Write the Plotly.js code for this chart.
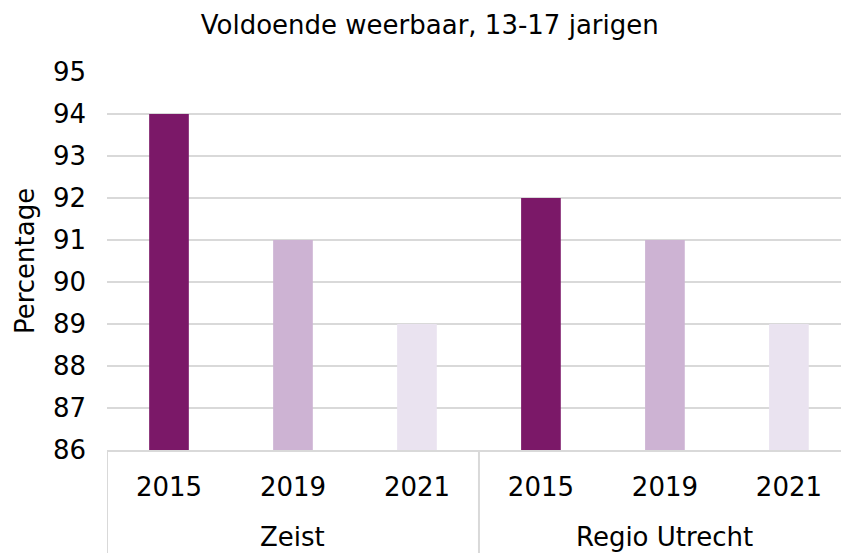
<!DOCTYPE html>
<html>
<head>
<meta charset="utf-8">
<script src="https://cdn.plot.ly/plotly-3.0.1.min.js"></script>
<style>html,body{margin:0;padding:0;background:#fff;}#chart{width:841px;height:553px;}</style>
</head>
<body>
<div id="chart"></div>
<script>
const groups = ["Zeist", "Zeist", "Zeist", "Regio Utrecht", "Regio Utrecht", "Regio Utrecht"];
const years = ["2015", "2019", "2021", "2015", "2019", "2021"];
const values = [94, 91, 89, 92, 91, 89];
const barColors = ["#7B1868", "#CDB3D3", "#EAE3F0", "#7B1868", "#CDB3D3", "#EAE3F0"];
const yTicks = [86, 87, 88, 89, 90, 91, 92, 93, 94, 95];

const font = "Verdana, 'DejaVu Sans', sans-serif";
const idx = years.map((_, i) => i);

// group spans
const spans = [];
groups.forEach((g, i) => {
  if (!spans.length || spans[spans.length - 1].name !== g) spans.push({name: g, start: i, end: i});
  else spans[spans.length - 1].end = i;
});
const boundaries = [-0.5].concat(spans.map(s => s.end + 0.5));
const divColor = "#D9D9D9";
const shapes = boundaries.map(b => ({
  type: "line", xref: "x", yref: "paper", x0: b, x1: b, y0: 0, y1: -0.28,
  line: {color: divColor, width: 2}
}));
const annotations = spans.map(s => ({
  text: s.name, xref: "x", yref: "paper", x: (s.start + s.end) / 2, y: -0.23,
  xanchor: "center", yanchor: "middle", showarrow: false,
  font: {family: font, size: 26, color: "#000"}
}));

Plotly.newPlot("chart", [{
  type: "bar",
  x: idx,
  y: values,
  marker: {color: barColors},
  width: 0.32,
  hoverinfo: "none",
  cliponaxis: false
}], {
  width: 841, height: 553,
  margin: {l: 107, r: 0, t: 72, b: 103},
  paper_bgcolor: "#fff", plot_bgcolor: "#fff",
  showlegend: false,
  title: {text: "Voldoende weerbaar, 13-17 jarigen", font: {family: font, size: 26, color: "#000"}, x: 0.511, xanchor: "center", y: 0.955, yanchor: "middle"},
  font: {family: font, color: "#000"},
  shapes: shapes,
  annotations: annotations,
  xaxis: {
    type: "linear",
    range: [-0.5, 5.42],
    tickvals: idx,
    ticktext: years,
    tickfont: {family: font, size: 26, color: "#000"},
    showline: true, linecolor: divColor, linewidth: 2,
    ticks: "", showgrid: false, zeroline: false,
    ticklabelstandoff: 13
  },
  yaxis: {
    range: [86, 95],
    tickvals: yTicks,
    ticktext: yTicks.map(String),
    tickfont: {family: font, size: 26, color: "#000"},
    showgrid: true, gridcolor: divColor, gridwidth: 2,
    zeroline: false, showline: false, ticks: "",
    ticklabelstandoff: 20,
    title: {text: "Percentage", font: {family: font, size: 26, color: "#000"}, standoff: 10}
  }
}, {displayModeBar: false, staticPlot: true});
</script>
</body>
</html>
